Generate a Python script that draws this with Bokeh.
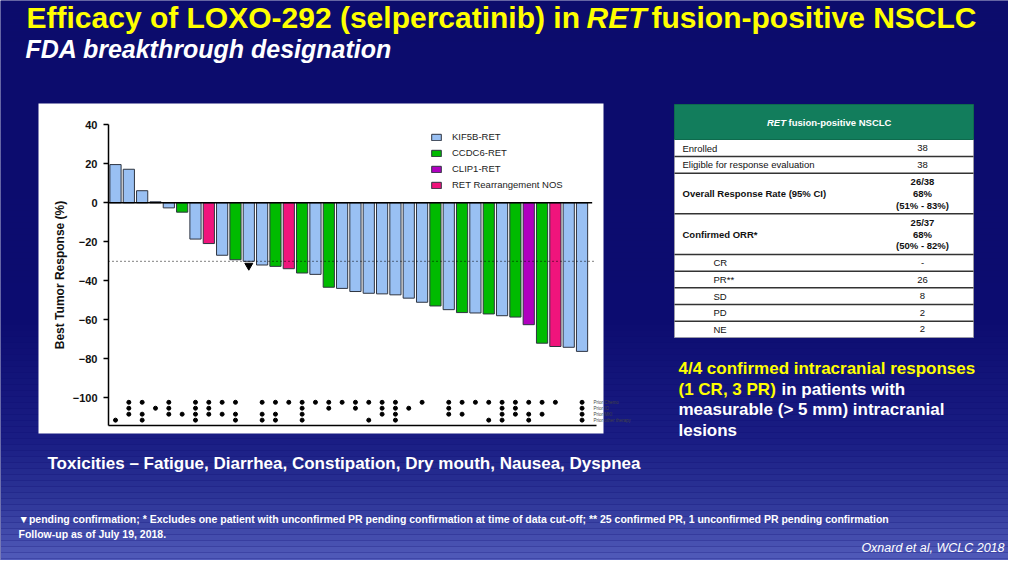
import numpy as np
from bokeh.plotting import figure
from bokeh.models import Range1d, LinearAxis, FixedTicker, Legend, LegendItem
from bokeh.core.properties import value
from bokeh.embed import file_html
from bokeh.resources import INLINE

# ---------------- data ----------------
patient = list(range(1, 37))
best_response = [19.6, 17.2, 6.2, 0.5, -2.6, -4.8, -18.6, -20.9, -26.9, -29.2, -30.0, -31.9,
                 -32.6, -33.8, -36.0, -36.7, -43.3, -43.9, -45.5, -46.4, -46.7, -47.2, -48.9, -51.0,
                 -52.9, -54.8, -56.3, -56.5, -57.0, -57.9, -58.6, -62.5, -72.0, -73.7, -74.1, -76.2]
fusion = ["KIF5B", "KIF5B", "KIF5B", "KIF5B", "KIF5B", "CCDC6", "KIF5B", "NOS", "KIF5B", "CCDC6", "KIF5B", "KIF5B",
          "CCDC6", "NOS", "CCDC6", "KIF5B", "CCDC6", "KIF5B", "KIF5B", "KIF5B", "KIF5B", "KIF5B", "KIF5B", "KIF5B",
          "CCDC6", "KIF5B", "CCDC6", "KIF5B", "CCDC6", "KIF5B", "CCDC6", "CLIP1", "CCDC6", "NOS", "KIF5B", "KIF5B"]
fusion_keys = ["KIF5B", "CCDC6", "CLIP1", "NOS"]
fusion_labels = ["KIF5B-RET", "CCDC6-RET", "CLIP1-RET", "RET Rearrangement NOS"]
fusion_colors = ["#99c0f3", "#00bb00", "#b000bf", "#f0147c"]
pending = [11]
threshold = -30
yticks = [40, 20, 0, -20, -40, -60, -80, -100]

prior_labels = ["Prior Chemo", "Prior IO", "Prior MKI", "Prior other therapy"]
prior_chemo = [0, 1, 1, 0, 1, 0, 1, 1, 1, 1, 0, 1, 1, 1, 1, 1, 1, 1, 1, 1, 1, 1, 0, 1, 0, 1, 1, 1, 1, 1, 1, 1, 1, 1, 0, 1]
prior_io    = [0, 1, 0, 1, 1, 0, 1, 1, 0, 0, 0, 0, 0, 0, 1, 0, 1, 0, 1, 0, 1, 1, 1, 0, 0, 1, 0, 0, 0, 1, 1, 0, 0, 0, 0, 1]
prior_mki   = [0, 1, 1, 0, 1, 1, 1, 1, 1, 1, 0, 1, 1, 0, 1, 0, 0, 0, 0, 0, 1, 1, 0, 0, 0, 1, 1, 0, 0, 1, 1, 1, 1, 0, 0, 1]
prior_other = [1, 0, 1, 0, 0, 0, 1, 0, 0, 1, 0, 1, 1, 0, 1, 0, 0, 0, 0, 1, 0, 1, 0, 0, 0, 0, 0, 0, 1, 1, 0, 1, 0, 0, 0, 1]

table_header = ["RET", "fusion-positive NSCLC"]
table_labels = ["Enrolled", "Eligible for response evaluation", "Overall Response Rate (95% CI)",
                "Confirmed ORR*", "CR", "PR**", "SD", "PD", "NE"]
table_values = [["38"], ["38"], ["26/38", "68%", "(51% - 83%)"], ["25/37", "68%", "(50% - 82%)"],
                ["-"], ["26"], ["8"], ["2"], ["2"]]
table_bold = [False, False, True, True, False, False, False, False, False]
table_indent = [False, False, False, False, True, True, True, True, True]

# ---------------- layout ----------------
OFF = 0
W, H = 1008, 560
FONT_NAME = "Liberation Sans"
FONT = value(FONT_NAME)
BAR0_PX, PITCH = 115.0, 13.33       # page x of first bar centre, bar pitch
Y0_PX, PXU = 202.3, 1.95            # page y of value 0, px per unit

p = figure(width=W, height=H, x_range=Range1d(OFF, OFF + W), y_range=Range1d(OFF + H, OFF),
           output_backend="svg", toolbar_location=None, x_axis_type=None, y_axis_type=None,
           min_border=0, outline_line_color=None, background_fill_color="#0c0c70",
           border_fill_color="#0c0c70")

p.extra_x_ranges = {"cx": Range1d(1 + (OFF - BAR0_PX) / PITCH, 1 + (OFF + W - BAR0_PX) / PITCH)}
p.extra_y_ranges = {"cy": Range1d((Y0_PX - (OFF + H)) / PXU, (Y0_PX - OFF) / PXU)}
AXIS_X = 1 + (108 - BAR0_PX) / PITCH
X_END = 1 + (593 - BAR0_PX) / PITCH
Y_BOTTOM = (Y0_PX - 425) / PXU

# background gradient
stops = [(0, (12, 12, 108)), (320, (12, 12, 112)), (440, (26, 29, 132)), (500, (46, 54, 152)), (576, (92, 102, 196))]
def grad(y):
    for (y0, c0), (y1, c1) in zip(stops[:-1], stops[1:]):
        if y <= y1:
            t = (y - y0) / (y1 - y0)
            return "#%02x%02x%02x" % tuple(int(round(a + (b - a) * t)) for a, b in zip(c0, c1))
    return "#%02x%02x%02x" % stops[-1][1]
band_top = [float(b) for b in np.arange(0, 576, 6)]
p.quad(left=0, right=1024, top=band_top, bottom=[b + 6 for b in band_top],
       fill_color=[grad(b + 3) for b in band_top], line_color=None)

# chart panel
p.quad(left=[38], right=[603], top=[103], bottom=[433], fill_color="white", line_color=None)

# bars
renderers = []
for key, col in zip(fusion_keys, fusion_colors):
    xs = [i for i, f in zip(patient, fusion) if f == key]
    ys = [v for v, f in zip(best_response, fusion) if f == key]
    r = p.vbar(x=xs, top=ys, bottom=0, width=0.84, fill_color=col, line_color="#2e3440",
               line_width=1, x_range_name="cx", y_range_name="cy")
    renderers.append(r)

p.segment(x0=[AXIS_X], x1=[X_END - 0.1], y0=[0], y1=[0], line_color="black", line_width=1.5,
          x_range_name="cx", y_range_name="cy")
p.segment(x0=[AXIS_X], x1=[X_END + 0.2], y0=[threshold], y1=[threshold], line_color="black",
          line_width=1, line_dash="1 3", x_range_name="cx", y_range_name="cy")
p.scatter(x=pending, y=[best_response[i - 1] - 2.2 for i in pending], marker="inverted_triangle",
          size=8, color="black", x_range_name="cx", y_range_name="cy")

# prior therapy dot matrix
row_y = [-102.3 - 3.05 * k for k in range(4)]
dx, dy = [], []
for k, flags in enumerate([prior_chemo, prior_io, prior_mki, prior_other]):
    for i, f in zip(patient, flags):
        if f:
            dx.append(i)
            dy.append(row_y[k])
p.scatter(x=dx, y=dy, size=4, color="black", x_range_name="cx", y_range_name="cy")
p.text(x=[X_END] * 4, y=row_y, text=prior_labels, text_font=FONT, text_font_size="4.5px",
       text_color="#444444", text_baseline="middle", text_align="left",
       x_range_name="cx", y_range_name="cy")

# axes
yax = LinearAxis(x_range_name="cx", y_range_name="cy", fixed_location=AXIS_X, bounds=(Y_BOTTOM, 40),
                 ticker=FixedTicker(ticks=yticks), axis_label="Best Tumor Response (%)")
yax.axis_line_width = 1.5
yax.major_tick_line_width = 1.5
yax.major_tick_out = 5
yax.major_tick_in = 0
yax.minor_tick_line_color = None
yax.major_label_text_font = FONT_NAME
yax.major_label_text_font_size = "11px"
yax.major_label_text_font_style = "bold"
yax.major_label_text_color = "#111111"
yax.major_label_standoff = 6
yax.axis_label_text_font = FONT_NAME
yax.axis_label_text_font_size = "12px"
yax.axis_label_text_font_style = "bold"
yax.axis_label_text_color = "#111111"
yax.axis_label_standoff = 3
p.add_layout(yax, "left")

xax = LinearAxis(x_range_name="cx", y_range_name="cy", fixed_location=Y_BOTTOM, bounds=(AXIS_X, X_END + 0.2),
                 ticker=FixedTicker(ticks=[]))
xax.axis_line_width = 1.5
xax.major_tick_line_color = None
xax.minor_tick_line_color = None
xax.major_label_text_color = None
p.add_layout(xax, "below")

legend = Legend(items=[LegendItem(label=l, renderers=[r]) for l, r in zip(fusion_labels, renderers)],
                location=(430, 370), orientation="vertical", glyph_width=12, glyph_height=8,
                label_height=9, spacing=5, padding=0, margin=0, label_standoff=10,
                label_text_font=FONT_NAME, label_text_font_size="9.5px", label_text_color="#222222",
                background_fill_alpha=0, border_line_color=None)
p.add_layout(legend)

# ---------------- texts ----------------
YEL = "#ffff00"
p.text(x=[26], y=[33], text=["Efficacy of LOXO-292 (selpercatinib) in "], text_font=FONT,
       text_font_size="30px", text_font_style="bold", text_color=YEL)
p.text(x=[586], y=[33], text=["RET"], text_font=FONT, text_font_size="30px",
       text_font_style="bold italic", text_color=YEL)
p.text(x=[651], y=[33], text=["fusion-positive NSCLC"], text_font=FONT, text_font_size="30px",
       text_font_style="bold", text_color=YEL)
p.text(x=[25], y=[62], text=["FDA breakthrough designation"], text_font=FONT, text_font_size="25px",
       text_font_style="bold italic", text_color="white")

# table
row_edges = [139, 156, 172.7, 213.3, 254, 270.7, 287.3, 304, 320.7, 336.7]
p.quad(left=[674], right=[973], top=[139], bottom=[337], fill_color="white", line_color="#9a9aa8")
p.quad(left=[674], right=[973], top=[104], bottom=[139], fill_color="#127d5c", line_color="#0e6a4d")
p.segment(x0=[674] * 8, x1=[973] * 8, y0=row_edges[1:-1], y1=row_edges[1:-1], line_color="#333333",
          line_width=1.5)
p.text(x=[785.5], y=[121.5], text=[table_header[0]], text_font=FONT, text_font_size="9.5px",
       text_font_style="bold italic", text_color="white", text_align="right", text_baseline="middle")
p.text(x=[788], y=[121.5], text=[table_header[1]], text_font=FONT, text_font_size="9.5px",
       text_font_style="bold", text_color="white", text_align="left", text_baseline="middle")
for k, (lab, vals) in enumerate(zip(table_labels, table_values)):
    yc = (row_edges[k] + row_edges[k + 1]) / 2
    style = "bold" if table_bold[k] else "normal"
    p.text(x=[713 if table_indent[k] else 682], y=[yc], text=[lab], text_font=FONT, text_font_size="9.5px",
           text_font_style=style, text_color="#111111", text_baseline="middle")
    n = len(vals)
    ys = [yc + (j - (n - 1) / 2) * 11.7 for j in range(n)]
    p.text(x=[922] * n, y=ys, text=vals, text_font=FONT, text_font_size="9.5px", text_font_style=style,
           text_color="#111111", text_baseline="middle", text_align="center")

# intracranial response text
p.text(x=[678], y=[377], text=["4/4 confirmed intracranial responses"], text_font=FONT,
       text_font_size="17px", text_font_style="bold", text_color=YEL)
p.text(x=[678], y=[398], text=["(1 CR, 3 PR)"], text_font=FONT, text_font_size="17px",
       text_font_style="bold", text_color=YEL)
p.text(x=[781], y=[398], text=["in patients with"], text_font=FONT, text_font_size="17px",
       text_font_style="bold", text_color="white")
p.text(x=[678, 678], y=[418, 439], text=["measurable (> 5 mm) intracranial", "lesions"], text_font=FONT,
       text_font_size="17px", text_font_style="bold", text_color="white")

p.text(x=[47], y=[472], text=["Toxicities \u2013 Fatigue, Diarrhea, Constipation, Dry mouth, Nausea, Dyspnea"],
       text_font=FONT, text_font_size="17px", text_font_style="bold", text_color="white")
p.text(x=[18, 18], y=[524, 539],
       text=["\u25bcpending confirmation; * Excludes one patient  with unconfirmed PR pending confirmation at time of data cut-off; ** 25 confirmed PR, 1 unconfirmed PR pending confirmation",
             "Follow-up as of July 19, 2018."],
       text_font=FONT, text_font_size="10.5px", text_font_style="bold", text_color="white")
p.text(x=[1004], y=[554], text=["Oxnard et al, WCLC 2018"], text_font=FONT, text_font_size="12.5px",
       text_font_style="italic", text_color="white", text_align="right")

open("out.html", "w").write(file_html(p, INLINE))
